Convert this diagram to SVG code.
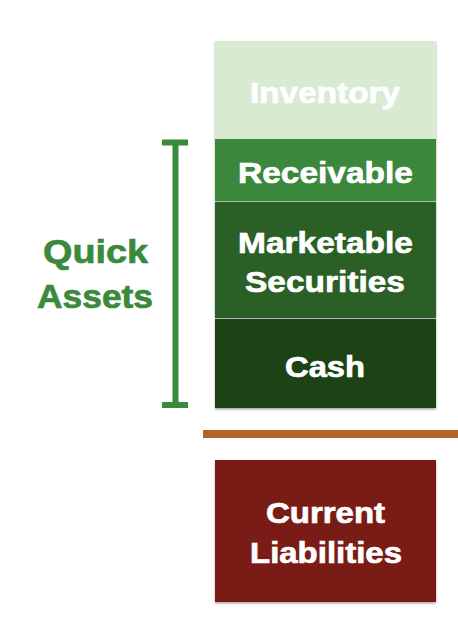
<svg xmlns="http://www.w3.org/2000/svg" width="458" height="632" viewBox="0 0 458 632">
<defs>
<filter id="sh" x="-10%" y="-10%" width="120%" height="120%">
<feDropShadow dx="0" dy="1.5" stdDeviation="1.2" flood-color="#000" flood-opacity="0.35"/>
</filter>
<style>
.t{font-family:"Liberation Sans",Arial,sans-serif;font-weight:bold;fill:#fff;stroke:#fff;stroke-width:0.7;text-anchor:middle;font-size:30px}
.q{font-family:"Liberation Sans",Arial,sans-serif;font-weight:bold;fill:#3a8a3c;stroke:#3a8a3c;stroke-width:0.7;text-anchor:middle;font-size:34px}
</style>
</defs>
<rect width="458" height="632" fill="#fff"/>
<g id="inventory"><rect x="215" y="41" width="221" height="98" fill="#d9ead3" filter="url(#sh)"/><text class="t" x="325" y="103" font-size="32" textLength="150" lengthAdjust="spacingAndGlyphs">Inventory</text></g>
<g id="receivable"><rect x="215" y="139" width="221" height="62" fill="#3b873a" filter="url(#sh)"/><text class="t" x="325.5" y="183" textLength="175" lengthAdjust="spacingAndGlyphs">Receivable</text></g>
<g id="marketable"><rect x="215" y="202" width="221" height="116" fill="#2c5e27" filter="url(#sh)"/><text class="t" x="325.5" y="253" textLength="175" lengthAdjust="spacingAndGlyphs">Marketable</text><text class="t" x="325" y="292" textLength="160" lengthAdjust="spacingAndGlyphs">Securities</text></g>
<g id="cash"><rect x="215" y="319" width="221" height="89" fill="#1d4217" filter="url(#sh)"/><text class="t" x="325" y="377" textLength="80" lengthAdjust="spacingAndGlyphs">Cash</text></g>
<g id="liabilities"><rect x="215" y="460" width="221" height="142" fill="#7a1e12" filter="url(#sh)"/><text class="t" x="325.5" y="523" textLength="119" lengthAdjust="spacingAndGlyphs">Current</text><text class="t" x="326" y="563" textLength="152" lengthAdjust="spacingAndGlyphs">Liabilities</text></g>
<g id="quick-assets"><text class="q" x="95.5" y="263" textLength="105" lengthAdjust="spacingAndGlyphs">Quick</text><text class="q" x="95" y="308" textLength="116" lengthAdjust="spacingAndGlyphs">Assets</text></g>
<g id="connectors">
<path d="M175.5 142 V405 M162 142.5 H188 M162 405 H188" stroke="#3a8a3c" stroke-width="6" fill="none"/>
<rect x="203" y="430" width="255" height="8" fill="#b5622a"/>
</g>
</svg>
